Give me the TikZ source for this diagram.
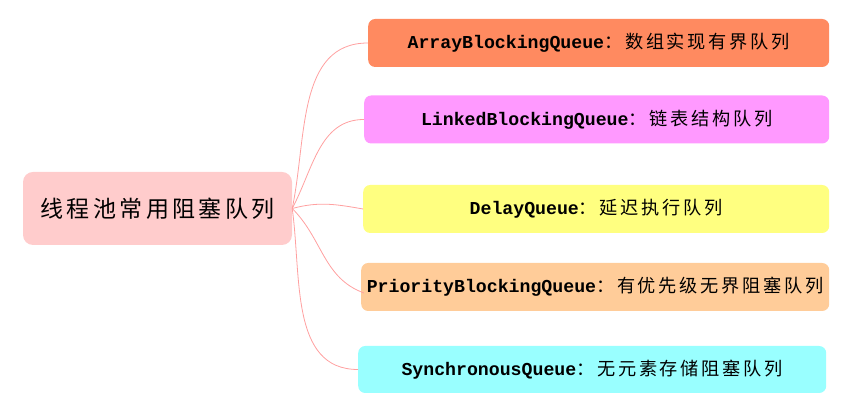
\documentclass[tikz,border=0pt]{standalone}
\usepackage{fontspec}
\usepackage{tikz}
\usetikzlibrary{positioning}
\setmonofont{Liberation Mono}
\newfontfamily\cjk[LetterSpace=15]{Noto Sans CJK SC}
\definecolor{rootpk}{RGB}{255,204,204}
\definecolor{qorange}{RGB}{255,138,96}
\definecolor{qpink}{RGB}{255,153,255}
\definecolor{qyellow}{RGB}{255,255,128}
\definecolor{qpeach}{RGB}{255,204,153}
\definecolor{qcyan}{RGB}{153,255,255}
\definecolor{lnk}{RGB}{255,160,160}
\newcommand{\qtxt}[2]{{\ttfamily\bfseries\fontsize{18.2}{21}\selectfont #1}{\cjk\fontsize{18.2}{21}\selectfont ：#2}}
\tikzset{
  rootbox/.style={rounded corners=10pt, fill=rootpk, minimum width=269pt, minimum height=73pt, inner sep=0pt, font=\cjk\fontsize{23}{26}\selectfont},
  qbox/.style={rounded corners=7pt, anchor=west, minimum height=48pt, inner sep=0pt},
  link/.style={lnk, line width=0.8pt}
}
\begin{document}
\begin{tikzpicture}[x=1pt, y=1pt]
        \useasboundingbox (0,0) rectangle (865,411);
        \node[rootbox] (root) at (157.5,202.5) {线程池常用阻塞队列};
        \node[qbox, fill=qorange, minimum width=461pt] (b1) at (368,368) {\qtxt{ArrayBlockingQueue}{数组实现有界队列}};
        \node[qbox, fill=qpink, minimum width=465pt] (b2) at (364,291.5) {\qtxt{LinkedBlockingQueue}{链表结构队列}};
        \node[qbox, fill=qyellow, minimum width=466pt] (b3) at (363,202) {\qtxt{DelayQueue}{延迟执行队列}};
        \node[qbox, fill=qpeach, minimum width=468pt] (b4) at (361,124) {\qtxt{PriorityBlockingQueue}{有优先级无界阻塞队列}};
        \node[qbox, fill=qcyan, minimum width=468pt, minimum height=47pt] (b5) at (358,41.5) {\qtxt{SynchronousQueue}{无元素存储阻塞队列}};
        \draw[link] (root.east) to[out=78, in=180] (b1.west);
        \draw[link] (root.east) to[out=62, in=180] (b2.west);
        \draw[link] (root.east) to[out=15, in=170] (b3.west);
        \draw[link] (root.east) to[out=-45, in=160] ([xshift=3pt, yshift=-6pt]b4.west);
        \draw[link] (root.east) to[out=-82, in=180] (b5.west);
      \end{tikzpicture}
\end{document}
